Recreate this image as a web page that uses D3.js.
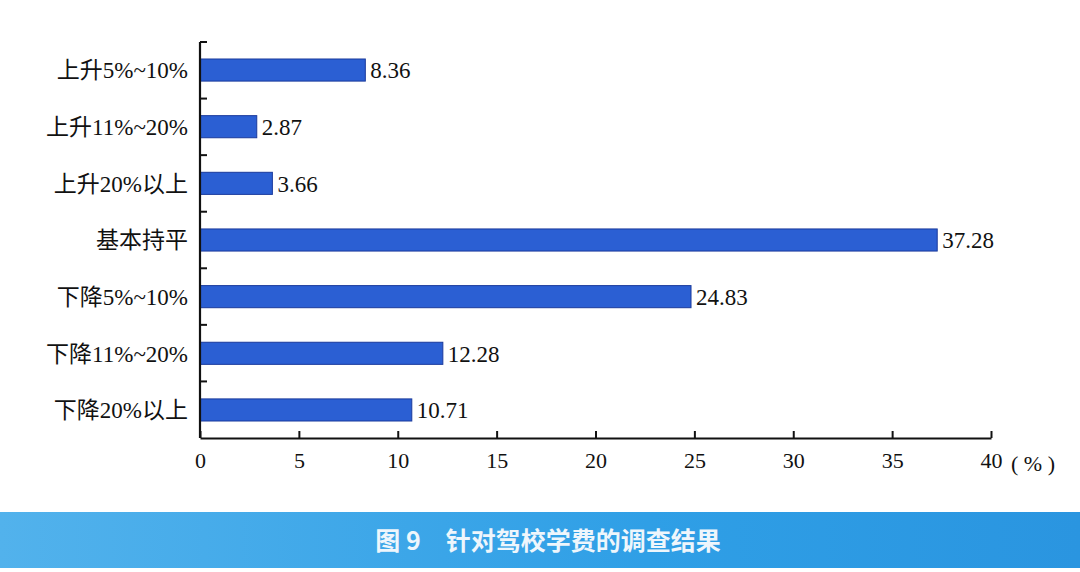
<!DOCTYPE html>
<html>
<head>
<meta charset="utf-8">
<script src="https://cdn.jsdelivr.net/npm/d3@7"></script>
<style>
  body { margin: 0; background: #fff; }
  svg { display: block; }
</style>
</head>
<body>
<div id="chart"></div>
<script>
// survey categories, top to bottom
var categories = ["上升5%~10%", "上升11%~20%", "上升20%以上", "基本持平", "下降5%~10%", "下降11%~20%", "下降20%以上"];
var values = [8.36, 2.87, 3.66, 37.28, 24.83, 12.28, 10.71];
var xTicks = [0, 5, 10, 15, 20, 25, 30, 35, 40];
var title = "图 9　针对驾校学费的调查结果";

var width = 1080, height = 572;
var margin = {left: 200, top: 42, right: 89, bottom: 134};

var svg = d3.select("#chart").append("svg")
    .attr("width", width)
    .attr("height", height);

var x = d3.scaleLinear()
    .domain([0, 40])
    .range([margin.left, width - margin.right]);

var y = d3.scaleBand()
    .domain(categories)
    .range([margin.top, height - margin.bottom])
    .paddingInner(0.61)
    .paddingOuter(0.3);

var serif = "'Liberation Serif', 'Times New Roman', 'Noto Sans CJK SC', serif";

// bars
svg.selectAll("rect.bar")
    .data(values)
    .enter().append("rect")
    .attr("class", "bar")
    .attr("x", x(0))
    .attr("y", function(d, i){ return y(categories[i]); })
    .attr("width", function(d){ return x(d) - x(0); })
    .attr("height", y.bandwidth())
    .style("fill", "#2b5fd3")
    .style("stroke", "#1a3a9c")
    .style("stroke-width", 1);

// value labels
svg.selectAll("text.val")
    .data(values)
    .enter().append("text")
    .attr("class", "val")
    .attr("x", function(d){ return x(d) + 5; })
    .attr("y", function(d, i){ return y(categories[i]) + y.bandwidth()/2; })
    .attr("dy", "0.36em")
    .style("font-family", serif)
    .style("font-size", "23px")
    .style("fill", "#111")
    .text(function(d){ return d.toFixed(2); });

// x axis
var xAxis = d3.axisBottom(x)
    .tickValues(xTicks)
    .tickSizeInner(-7)
    .tickSizeOuter(0)
    .tickPadding(14);

var gx = svg.append("g")
    .attr("transform", "translate(0," + (height - margin.bottom) + ")")
    .call(xAxis);
gx.select(".domain").style("stroke", "#111").style("stroke-width", 2.2);
gx.selectAll(".tick line").style("stroke", "#111").style("stroke-width", 2);
gx.selectAll(".tick text")
    .style("font-family", serif)
    .style("font-size", "22px")
    .style("fill", "#111");

svg.append("text")
    .attr("x", x(40) + 20)
    .attr("y", height - margin.bottom + 33)
    .style("font-family", serif)
    .style("font-size", "22px")
    .style("fill", "#111")
    .text("( % )");

// y axis: ticks sit between categories
var gy = svg.append("g")
    .attr("transform", "translate(" + margin.left + ",0)");
gy.append("line")
    .attr("x1", 0).attr("x2", 0)
    .attr("y1", margin.top).attr("y2", height - margin.bottom)
    .style("stroke", "#111").style("stroke-width", 2.2);

var bounds = d3.range(categories.length).map(function(i){ return margin.top + i * (height - margin.top - margin.bottom) / categories.length; });
gy.selectAll("line.tk")
    .data(bounds)
    .enter().append("line")
    .attr("class", "tk")
    .attr("x1", 0).attr("x2", 7)
    .attr("y1", function(d){ return d; })
    .attr("y2", function(d){ return d; })
    .style("stroke", "#111").style("stroke-width", 2);

gy.selectAll("text.cat")
    .data(categories)
    .enter().append("text")
    .attr("class", "cat")
    .attr("x", -12)
    .attr("y", function(d){ return y(d) + y.bandwidth()/2; })
    .attr("dy", "0.36em")
    .attr("text-anchor", "end")
    .style("font-family", "'Liberation Serif', 'Noto Sans CJK SC', serif")
    .style("font-size", "23px")
    .style("fill", "#111")
    .text(function(d){ return d; });

// caption banner
var grad = svg.append("defs").append("linearGradient")
    .attr("id", "band")
    .attr("x1", "0%").attr("x2", "100%");
grad.append("stop").attr("offset", "0%").attr("stop-color", "#52b2ec");
grad.append("stop").attr("offset", "60%").attr("stop-color", "#2f9fe6");
grad.append("stop").attr("offset", "100%").attr("stop-color", "#2a95e0");

svg.append("rect")
    .attr("x", 0)
    .attr("y", 512)
    .attr("width", width)
    .attr("height", 56)
    .style("fill", "url(#band)");

svg.append("text")
    .attr("x", 548)
    .attr("y", 541)
    .attr("dy", "0.36em")
    .attr("text-anchor", "middle")
    .style("font-family", "'Noto Sans CJK SC', sans-serif")
    .style("font-size", "25px")
    .style("font-weight", "bold")
    .style("fill", "#eef6fc")
    .text(title);
</script>
</body>
</html>
